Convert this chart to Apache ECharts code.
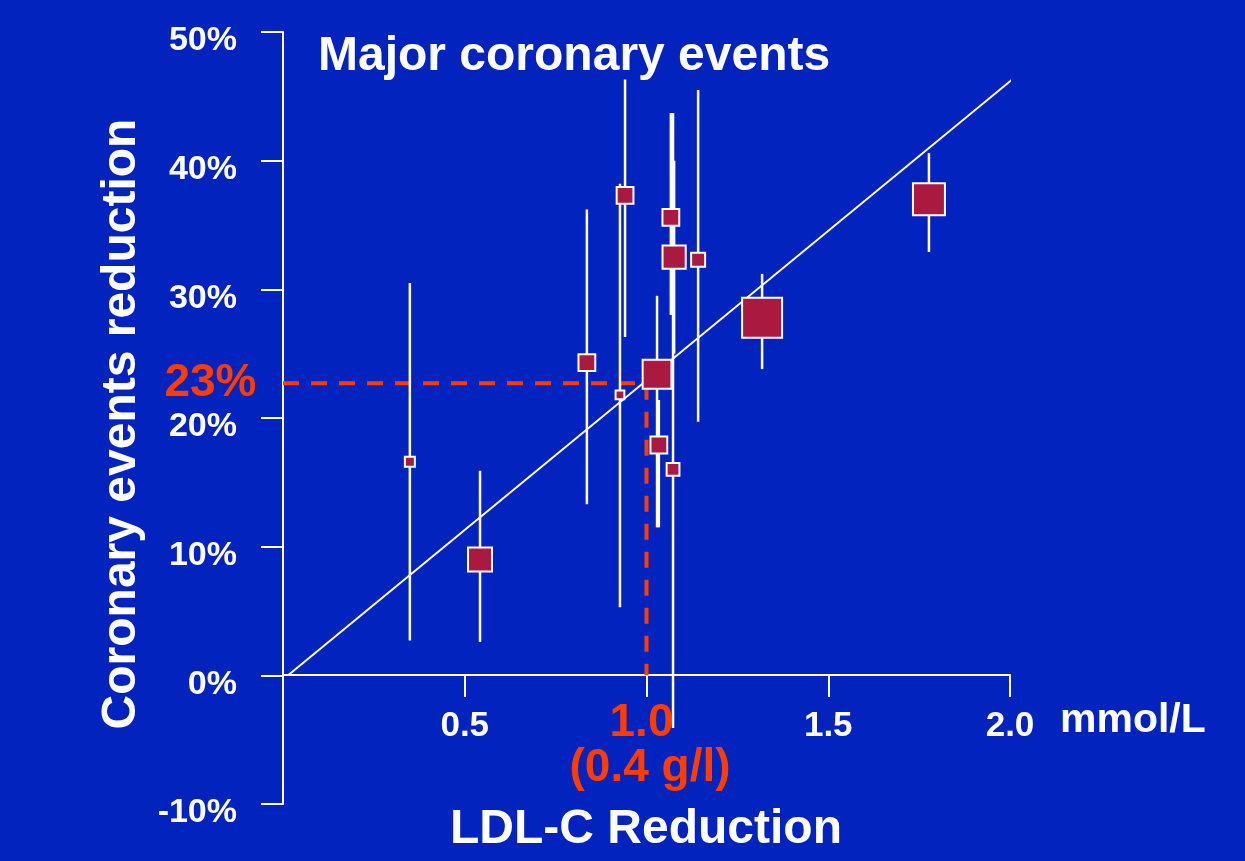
<!DOCTYPE html>
<html>
<head>
<meta charset="utf-8">
<script src="https://cdn.jsdelivr.net/npm/echarts@6/dist/echarts.min.js"></script>
<style>
  html, body { margin: 0; padding: 0; background: #0323be; }
  #chart { width: 1245px; height: 861px; }
</style>
</head>
<body>
<div id="chart"></div>
<script>
// ---- data ----
const ldlReduction   = [0.349, 0.542, 0.836, 0.941, 0.927, 1.029, 1.034, 1.067, 1.076, 1.073, 1.142, 1.318, 1.777]; // mmol/L
const eventReduction = [16.6, 9.0, 24.3, 37.3, 21.8, 23.4, 17.9, 35.6, 32.5, 16.0, 32.3, 27.8, 37.0];             // %
const ciLow          = [2.7, 2.6, 13.3, 26.3, 5.3, 11.5, 11.5, 28.0, 25.0, -4.1, 19.7, 23.8, 32.9];
const ciHigh         = [30.5, 15.9, 36.2, 46.3, 38.2, 29.5, 21.4, 43.7, 40.0, 43.7, 45.5, 31.2, 40.6];
const studyWeight    = [2.5, 6.0, 4.2, 4.2, 2.2, 7.2, 4.2, 4.2, 5.8, 3.2, 3.5, 10.0, 8.0];
const fitLineX = [0.014, 2.01];
const fitLineY = [0, 46.4];
const refLDL = 1.0;
const refEvent = 22.7;
const yTicks = [-10, 0, 10, 20, 30, 40, 50];
const xTicks = [0.5, 1.0, 1.5, 2.0];

const FONT = "'Liberation Sans', Arial, sans-serif";
const RED = '#ff3d00';
const WHITE = '#ffffff';

const points = ldlReduction.map((x, i) => [x, eventReduction[i], studyWeight[i]]);
const bars = ldlReduction.map((x, i) => [x, ciLow[i], ciHigh[i]]);

const chart = echarts.init(document.getElementById('chart'));
chart.setOption({
  backgroundColor: '#0323be',
  animation: false,
  title: [
    { text: 'Major coronary events', left: 318, top: 33, padding: 0,
      textStyle: { color: WHITE, fontFamily: FONT, fontWeight: 'bold', fontSize: 48, lineHeight: 48 } },
    { text: 'LDL-C Reduction', left: 450, top: 806, padding: 0,
      textStyle: { color: WHITE, fontFamily: FONT, fontWeight: 'bold', fontSize: 48, lineHeight: 48 } }
  ],
  grid: { left: 283, right: 235, top: 32, bottom: 57, containLabel: false, outerBoundsMode: 'none' },
  xAxis: {
    type: 'value', min: 0, max: 2, interval: 0.5,
    position: 'bottom', offset: -129,
    name: 'mmol/L', nameLocation: 'end', nameGap: 50,
    nameTextStyle: { color: WHITE, fontFamily: FONT, fontWeight: 'bold', fontSize: 41, lineHeight: 40,
                     align: 'left', verticalAlign: 'top', padding: [26, 0, 0, 0] },
    axisLine: { onZero: false, lineStyle: { color: WHITE, width: 2 } },
    axisTick: { show: true, length: 22, lineStyle: { color: WHITE, width: 2 } },
    splitLine: { show: false },
    axisLabel: {
      margin: 33, color: WHITE, fontFamily: FONT, fontWeight: 'bold', fontSize: 35, lineHeight: 36,
      formatter: function (v) {
        if (xTicks.indexOf(v) < 0) return '';
        if (v === refLDL) return '{r|1.0}\n{g|(0.4 g/l)}';
        return v.toFixed(1);
      },
      rich: {
        r: { color: RED, fontFamily: FONT, fontWeight: 'bold', fontSize: 46, lineHeight: 30, padding: [0, 10, 0, 0] },
        g: { color: RED, fontFamily: FONT, fontWeight: 'bold', fontSize: 46, lineHeight: 60, padding: [0, 0, 0, 7] }
      }
    }
  },
  yAxis: {
    type: 'value', min: -10, max: 50, interval: 10,
    name: 'Coronary events reduction', nameLocation: 'middle', nameGap: 137, nameRotate: 90,
    nameTextStyle: { color: WHITE, fontFamily: FONT, fontWeight: 'bold', fontSize: 48, lineHeight: 48,
                     padding: [0, 12, 0, 0] },
    axisLine: { show: true, onZero: false, lineStyle: { color: WHITE, width: 2 } },
    axisTick: { show: true, length: 22, lineStyle: { color: WHITE, width: 2 } },
    splitLine: { show: false },
    axisLabel: {
      margin: 46, color: WHITE, fontFamily: FONT, fontWeight: 'bold', fontSize: 34,
      verticalAlign: 'top', lineHeight: 18,
      formatter: function (v) { return yTicks.indexOf(v) >= 0 ? v + '%' : ''; }
    }
  },
  series: [
    {
      type: 'line', clip: false, symbol: 'none', silent: true,
      data: fitLineX.map((x, i) => [x, fitLineY[i]]),
      lineStyle: { color: WHITE, width: 2 }, z: 2
    },
    {
      type: 'line', clip: false, symbol: 'circle', symbolSize: 1, showSymbol: true, silent: true,
      itemStyle: { color: 'transparent' },
      data: [
        { value: [0, refEvent],
          label: { show: true, formatter: '23%', position: 'left', distance: 26,
                   color: RED, fontFamily: FONT, fontWeight: 'bold', fontSize: 46 } },
        [refLDL, refEvent],
        [refLDL, 0]
      ],
      lineStyle: { color: RED, width: 4, type: [16, 12], cap: 'butt' }, z: 3
    },
    {
      type: 'custom', clip: false, silent: true, z: 4,
      data: bars,
      renderItem: function (params, api) {
        const top = api.coord([api.value(0), api.value(2)]);
        const bot = api.coord([api.value(0), api.value(1)]);
        return {
          type: 'line',
          shape: { x1: top[0], y1: top[1], x2: bot[0], y2: bot[1] },
          style: { stroke: WHITE, lineWidth: 2.5 }
        };
      }
    },
    {
      type: 'scatter', symbol: 'rect', silent: true, z: 5,
      data: points,
      symbolSize: function (d) { return d[2] * 4; },
      itemStyle: { color: '#aa1a40', borderColor: WHITE, borderWidth: 2, opacity: 1 }
    }
  ]
});
</script>
</body>
</html>
